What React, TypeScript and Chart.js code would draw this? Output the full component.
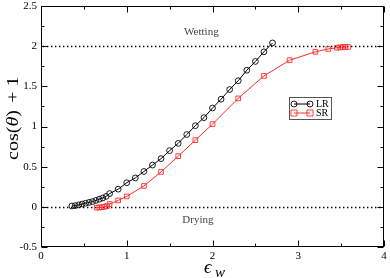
import React, { useEffect, useRef } from "react";
import { Chart, registerables } from "chart.js";

Chart.register(...registerables);

// Long-range (LR) series
const lrEps = [0.36, 0.4, 0.44, 0.48, 0.52, 0.56, 0.6, 0.64, 0.68, 0.72, 0.76, 0.8, 0.9, 1.0, 1.1, 1.2, 1.3, 1.4, 1.5, 1.6, 1.7, 1.8, 1.9, 2.0, 2.1, 2.2, 2.3, 2.4, 2.5, 2.6, 2.7];
const lrCos = [0.01, 0.015, 0.025, 0.035, 0.045, 0.055, 0.065, 0.08, 0.095, 0.11, 0.13, 0.165, 0.22, 0.3, 0.36, 0.44, 0.52, 0.6, 0.7, 0.79, 0.9, 1.01, 1.11, 1.23, 1.34, 1.46, 1.57, 1.7, 1.81, 1.93, 2.04];

// Short-range (SR) series
const srEps = [0.65, 0.68, 0.71, 0.74, 0.77, 0.8, 0.9, 1.0, 1.2, 1.4, 1.6, 1.8, 2.0, 2.3, 2.6, 2.9, 3.2, 3.35, 3.45, 3.49, 3.52, 3.55, 3.58];
const srCos = [-0.01, -0.008, -0.004, 0.0, 0.01, 0.035, 0.08, 0.13, 0.26, 0.435, 0.63, 0.83, 1.03, 1.35, 1.63, 1.825, 1.93, 1.965, 1.98, 1.985, 1.99, 1.99, 1.99];

const xTickLabels = ["0", "1", "2", "3", "4"];
const yTickLabels = ["-0.5", "0", "0.5", "1", "1.5", "2", "2.5"];
const refLines = [0, 2];
const notes = [
  { text: "Wetting", x: 1.87, y: 2.17 },
  { text: "Drying", x: 1.83, y: -0.165 },
];
const seriesNames = ["LR", "SR"];

const SERIF = "'Liberation Serif', 'Times New Roman', serif";
const RED = "#ff2a2a";

const framePlugin = {
  id: "frame",
  beforeDatasetsDraw(chart: any) {
    const { ctx, chartArea: a, scales } = chart;
    const xs = scales.x;
    const ys = scales.y;
    ctx.save();
    // dotted reference lines
    ctx.strokeStyle = "#000";
    ctx.lineWidth = 1.6;
    ctx.setLineDash([1.4, 2.6]);
    for (const v of refLines) {
      const py = Math.round(ys.getPixelForValue(v)) + 0.5;
      ctx.beginPath();
      ctx.moveTo(a.left + 2, py);
      ctx.lineTo(a.right, py);
      ctx.stroke();
    }
    ctx.setLineDash([]);
    // notes
    ctx.fillStyle = "#444";
    ctx.font = `11px ${SERIF}`;
    ctx.textAlign = "center";
    ctx.textBaseline = "middle";
    for (const n of notes) {
      ctx.fillText(n.text, xs.getPixelForValue(n.x), ys.getPixelForValue(n.y));
    }
    // frame
    ctx.strokeStyle = "#000";
    ctx.lineWidth = 1;
    const L = Math.round(a.left) + 0.5;
    const R = Math.round(a.right) - 0.5;
    const T = Math.round(a.top) + 0.5;
    const B = Math.round(a.bottom) - 0.5;
    ctx.strokeRect(L, T, R - L, B - T);
    // ticks (inward, all sides)
    ctx.beginPath();
    for (let v = 0; v <= 4.0001; v += 0.5) {
      const major = Math.abs(v - Math.round(v)) < 1e-6;
      const len = major ? 6 : 3;
      const px = Math.round(xs.getPixelForValue(v)) + 0.5;
      ctx.moveTo(px, B);
      ctx.lineTo(px, B - len);
      ctx.moveTo(px, T);
      ctx.lineTo(px, T + len);
    }
    for (let v = -0.5; v <= 2.5001; v += 0.25) {
      const major = Math.abs(v * 2 - Math.round(v * 2)) < 1e-6;
      const len = major ? 6 : 3;
      const py = Math.round(ys.getPixelForValue(v)) + 0.5;
      ctx.moveTo(L, py);
      ctx.lineTo(L + len, py);
      ctx.moveTo(R, py);
      ctx.lineTo(R - len, py);
    }
    ctx.stroke();
    ctx.restore();
  },
  afterDraw(chart: any) {
    const { ctx } = chart;
    // y-axis title, read bottom-to-top: "cos(θ)", "+", "1"
    ctx.save();
    ctx.fillStyle = "#000";
    ctx.textBaseline = "middle";
    ctx.translate(14, 160);
    ctx.rotate(-Math.PI / 2);
    const sx = 1.18;
    ctx.scale(sx, 1);
    ctx.textAlign = "left";
    ctx.font = `17px ${SERIF}`;
    ctx.fillText("cos(", 0, 0);
    let w = ctx.measureText("cos(").width;
    ctx.font = `italic 17px ${SERIF}`;
    ctx.fillText("θ", w, 0);
    w += ctx.measureText("θ").width;
    ctx.font = `17px ${SERIF}`;
    ctx.fillText(")", w, 0);
    ctx.textAlign = "center";
    ctx.fillText("+", 63 / sx, 0);
    ctx.fillText("1", 78.5 / sx, 0);
    ctx.restore();

    // x-axis title: epsilon_w
    ctx.save();
    ctx.fillStyle = "#000";
    ctx.textBaseline = "alphabetic";
    ctx.textAlign = "left";
    ctx.font = `italic 19px ${SERIF}`;
    ctx.fillText("ϵ", 204, 273);
    ctx.font = `italic 15px ${SERIF}`;
    ctx.fillText("w", 215, 277);
    ctx.restore();

    // legend
    ctx.save();
    const bx = 289.5, by = 97.5, bw = 42, bh = 22;
    ctx.strokeStyle = "#555";
    ctx.lineWidth = 1;
    ctx.strokeRect(bx, by, bw, bh);
    const rows = [
      { y: 104, color: "#000", style: "circle" },
      { y: 113, color: RED, style: "rect" },
    ];
    rows.forEach((r, i) => {
      ctx.strokeStyle = r.color;
      ctx.lineWidth = 1;
      ctx.beginPath();
      ctx.moveTo(294, r.y);
      ctx.lineTo(310, r.y);
      ctx.stroke();
      for (const mx of [294, 310]) {
        ctx.beginPath();
        if (r.style === "circle") ctx.arc(mx, r.y, 3, 0, Math.PI * 2);
        else ctx.rect(mx - 3, r.y - 3, 6, 6);
        ctx.lineWidth = 0.9;
        ctx.stroke();
      }
      ctx.fillStyle = "#000";
      ctx.font = `10px ${SERIF}`;
      ctx.textAlign = "left";
      ctx.textBaseline = "middle";
      ctx.fillText(seriesNames[i], 316, r.y + 0.5);
    });
    ctx.restore();
  },
};

export default function App() {
  const ref = useRef<HTMLCanvasElement | null>(null);
  useEffect(() => {
    document.body.style.margin = "0";
    const canvas = ref.current;
    if (!canvas) return;
    const chart = new Chart(canvas, {
      type: "scatter",
      data: {
        datasets: [
          {
            label: seriesNames[0],
            data: lrEps.map((x, i) => ({ x, y: lrCos[i] })),
            showLine: true,
            borderColor: "#000",
            borderWidth: 1,
            pointStyle: "circle",
            pointRadius: 2.9,
            pointBorderWidth: 0.9,
            pointBorderColor: "#000",
            pointBackgroundColor: "rgba(0,0,0,0)",
          },
          {
            label: seriesNames[1],
            data: srEps.map((x, i) => ({ x, y: srCos[i] })),
            showLine: true,
            borderColor: RED,
            borderWidth: 1,
            pointStyle: "rect",
            pointRadius: 3.3,
            pointBorderWidth: 0.9,
            pointBorderColor: RED,
            pointBackgroundColor: "rgba(0,0,0,0)",
          },
        ],
      },
      options: {
        animation: false,
        responsive: true,
        maintainAspectRatio: false,
        events: [],
        layout: { padding: { left: 0, top: 6, right: 6, bottom: 0 }, autoPadding: false },
        plugins: { legend: { display: false }, tooltip: { enabled: false } },
        scales: {
          x: {
            type: "linear",
            min: 0,
            max: 4,
            grid: { display: false, drawTicks: false },
            border: { display: false },
            ticks: {
              stepSize: 1,
              padding: 3,
              color: "#000",
              font: { family: SERIF, size: 11 },
              maxRotation: 0,
              callback: (v: any) => xTickLabels[Math.round(Number(v))] ?? "",
            },
            afterFit: (s: any) => {
              s.height = 31;
              s.paddingLeft = 0;
              s.paddingRight = 0;
            },
          },
          y: {
            type: "linear",
            min: -0.5,
            max: 2.5,
            grid: { display: false, drawTicks: false },
            border: { display: false },
            ticks: {
              stepSize: 0.5,
              padding: 4,
              color: "#000",
              font: { family: SERIF, size: 11 },
              callback: (v: any) => yTickLabels[Math.round((Number(v) + 0.5) * 2)] ?? "",
            },
            afterFit: (s: any) => {
              s.width = 41;
              s.paddingTop = 0;
              s.paddingBottom = 0;
            },
          },
        },
      },
      plugins: [framePlugin],
    });
    return () => chart.destroy();
  }, []);
  return (
    <div style={{ width: 390, height: 278, position: "relative" }}>
      <canvas ref={ref} />
    </div>
  );
}
